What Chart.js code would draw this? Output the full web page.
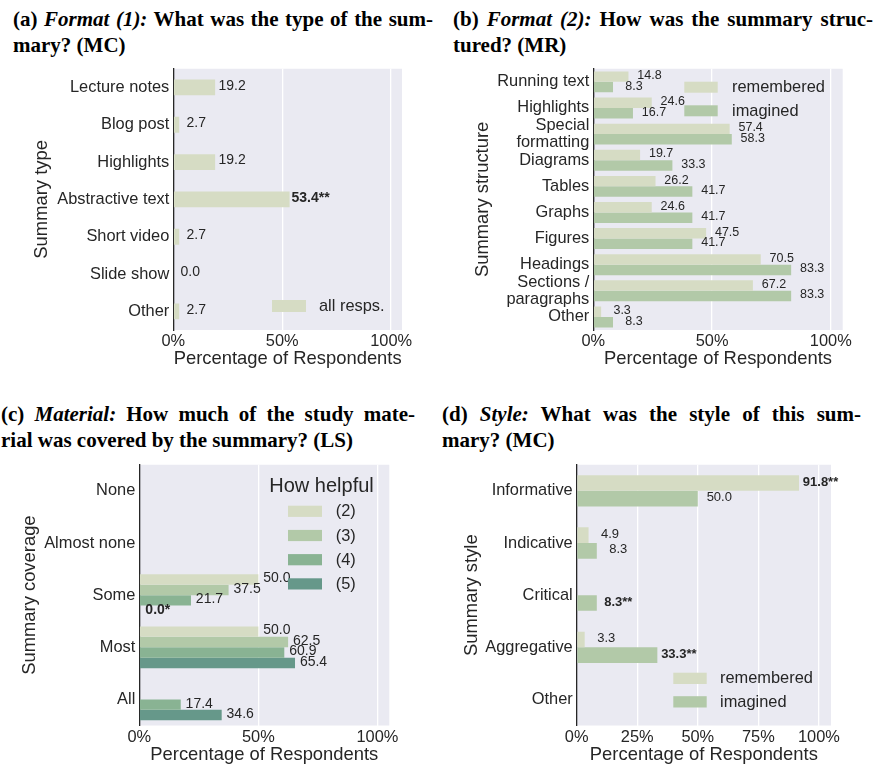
<!DOCTYPE html>
<html lang="en">
<head>
<meta charset="utf-8">
<title>Summary survey results</title>
<script src="https://cdn.jsdelivr.net/npm/chart.js@4.4.0/dist/chart.umd.min.js"></script>
<style>
  body { margin: 0; background: #fff; }
  #page { position: relative; width: 876px; height: 765px; overflow: hidden; }
  canvas { position: absolute; }
  .ttl {
    position: absolute;
    font-family: "Liberation Serif", "DejaVu Serif", serif;
    font-weight: bold;
    font-size: 21px;
    line-height: 25.5px;
    color: #000;
  }
  .ttl .l1 { text-align: justify; text-align-last: justify; }
</style>
</head>
<body>
<div id="page">
  <div class="ttl" style="left:13px; top:7px; width:420px;">
    <div class="l1">(a) <i>Format (1):</i> What was the type of the sum-</div>
    <div>mary? (MC)</div>
  </div>
  <div class="ttl" style="left:453px; top:7px; width:420px;">
    <div class="l1">(b) <i>Format (2):</i> How was the summary struc-</div>
    <div>tured? (MR)</div>
  </div>
  <div class="ttl" style="left:1px; top:402px; width:414px;">
    <div class="l1">(c) <i>Material:</i> How much of the study mate-</div>
    <div>rial was covered by the summary? (LS)</div>
  </div>
  <div class="ttl" style="left:442px; top:402px; width:419px;">
    <div class="l1">(d) <i>Style:</i> What was the style of this sum-</div>
    <div>mary? (MC)</div>
  </div>

  <canvas id="chartA" width="436" height="320"></canvas>
  <canvas id="chartB" width="440" height="320"></canvas>
  <canvas id="chartC" width="436" height="313"></canvas>
  <canvas id="chartD" width="440" height="313"></canvas>
</div>

<script>
// ---- data (percent of respondents) ----
var typeLabels = ['Lecture notes', 'Blog post', 'Highlights', 'Abstractive text', 'Short video', 'Slide show', 'Other'];
var typeAll = [19.2, 2.7, 19.2, 53.4, 2.7, 0.0, 2.7];
var typeMarks = ['', '', '', '**', '', '', ''];

var structLabels = ['Running text', 'Highlights', ['Special', 'formatting'], 'Diagrams', 'Tables', 'Graphs',
                    'Figures', 'Headings', ['Sections /', 'paragraphs'], 'Other'];
var structRemembered = [14.8, 24.6, 57.4, 19.7, 26.2, 24.6, 47.5, 70.5, 67.2, 3.3];
var structImagined = [8.3, 16.7, 58.3, 33.3, 41.7, 41.7, 41.7, 83.3, 83.3, 8.3];

var coverLabels = ['None', 'Almost none', 'Some', 'Most', 'All'];
var coverHelp2 = [null, null, 50.0, 50.0, null];
var coverHelp3 = [null, null, 37.5, 62.5, null];
var coverHelp4 = [null, null, 21.7, 60.9, 17.4];
var coverHelp5 = [null, null, 0.0, 65.4, 34.6];
var coverHelp5Marks = ['', '', '*', '', ''];

var styleLabels = ['Informative', 'Indicative', 'Critical', 'Aggregative', 'Other'];
var styleRemembered = [91.8, 4.9, null, 3.3, null];
var styleImagined = [50.0, 8.3, 8.3, 33.3, null];
var styleRememberedMarks = ['**', '', '', '', ''];
var styleImaginedMarks = ['', '', '**', '**', ''];

var ticksHalves = [0, 50, 100];
var ticksQuarters = [0, 25, 50, 75, 100];

// colours
var GREEN2 = '#D6DCC4', GREEN3 = '#B2C9A8', GREEN4 = '#89B393', GREEN5 = '#66988A';
var INK = '#262626';
var SANS = '"Liberation Sans", Arial, sans-serif';

Chart.defaults.font.family = SANS;
Chart.defaults.color = INK;

// grey plot background
var panelBg = {
  id: 'panelBg',
  beforeDraw: function(chart) {
    var a = chart.chartArea, ctx = chart.ctx;
    ctx.save();
    ctx.fillStyle = '#EAEAF2';
    ctx.fillRect(a.left, a.top, a.right - a.left, a.bottom - a.top);
    ctx.restore();
  }
};

// numbers next to the bars
var valueLabels = {
  id: 'valueLabels',
  afterDatasetsDraw: function(chart, args, o) {
    var ctx = chart.ctx;
    chart.data.datasets.forEach(function(ds, i) {
      var meta = chart.getDatasetMeta(i);
      meta.data.forEach(function(bar, j) {
        var v = ds.data[j];
        if (v === null || v === undefined) return;
        var mark = ds.marks ? ds.marks[j] : '';
        ctx.save();
        ctx.font = (mark ? 'bold ' : '') + o.size + 'px ' + SANS;
        ctx.fillStyle = INK;
        ctx.textAlign = 'center';
        ctx.textBaseline = 'middle';
        ctx.fillText(v.toFixed(1) + mark, bar.x + o.offset + (mark ? (o.boldShift || 0) : 0), bar.y + o.dy);
        ctx.restore();
      });
    });
  }
};

// legend drawn inside the plot
var boxLegend = {
  id: 'boxLegend',
  afterDraw: function(chart, args, o) {
    var ctx = chart.ctx;
    var x0 = o.x - o.left, y0 = o.y - o.top;
    ctx.save();
    ctx.textAlign = 'left';
    ctx.textBaseline = 'middle';
    if (o.title) {
      ctx.fillStyle = INK;
      ctx.font = '20px ' + SANS;
      ctx.fillText(o.title, o.titleX - o.left, o.titleY - o.top);
    }
    ctx.font = '16.4px ' + SANS;
    chart.data.datasets.forEach(function(ds, i) {
      var y = y0 + i * o.row;
      ctx.fillStyle = ds.backgroundColor;
      ctx.fillRect(x0, y, o.boxW, o.boxH);
      ctx.fillStyle = INK;
      ctx.fillText(ds.label, x0 + o.textDx, y + o.boxH / 2 + 0.5);
    });
    ctx.restore();
  }
};

function buildChart(id, g, labels, datasets, xTicks, catPct, valOpts, legOpts) {
  var canvas = document.getElementById(id);
  canvas.style.left = g.left + 'px';
  canvas.style.top = g.top + 'px';

  var padLeft = g.yTitleX - 13.2 - g.left;
  var yWidth = g.area[0] - g.left - padLeft;
  var padBottom = g.top + g.h - (g.xTitleY + 9.2);
  var xHeight = g.xTitleY + 9.2 - g.area[3];
  legOpts.left = g.left;
  legOpts.top = g.top;

  datasets.forEach(function(ds) {
    ds.categoryPercentage = catPct;
    ds.barPercentage = 1.0;
    ds.borderWidth = 0;
  });

  return new Chart(canvas.getContext('2d'), {
    type: 'bar',
    data: { labels: labels, datasets: datasets },
    plugins: [panelBg, valueLabels, boxLegend],
    options: {
      indexAxis: 'y',
      responsive: false,
      animation: false,
      devicePixelRatio: 1,
      layout: {
        padding: { left: padLeft, right: g.left + g.w - g.area[2], top: g.area[1] - g.top, bottom: padBottom }
      },
      scales: {
        x: {
          type: 'linear',
          min: 0,
          max: 105,
          afterBuildTicks: function(s) { s.ticks = xTicks.map(function(v) { return { value: v }; }); },
          afterFit: function(s) { s.height = xHeight; },
          grid: {
            color: function(c) { return c.tick && c.tick.value === 0 ? 'rgba(0,0,0,0)' : '#FFFFFF'; },
            lineWidth: 1.3,
            drawTicks: false
          },
          border: { display: false },
          ticks: {
            padding: g.tickPad,
            color: INK,
            font: { size: 16.4 },
            callback: function(v) { return v + '%'; }
          },
          title: {
            display: true,
            text: 'Percentage of Respondents',
            color: INK,
            font: { size: 18.4, lineHeight: 1 },
            padding: { top: 0, bottom: 0 }
          }
        },
        y: {
          afterFit: function(s) { s.width = yWidth; },
          grid: { display: false, drawTicks: false },
          border: { display: true, color: INK, width: 1.3 },
          ticks: { autoSkip: false, padding: 4, color: INK, font: { size: 16.4, lineHeight: 1.07 } },
          title: {
            display: true,
            text: g.yTitle,
            color: INK,
            font: { size: 18.4, lineHeight: 1 },
            padding: { top: 4, bottom: 0 }
          }
        }
      },
      plugins: {
        legend: { display: false },
        tooltip: { enabled: false },
        valueLabels: valOpts,
        boxLegend: legOpts
      }
    }
  });
}

// (a) summary type
buildChart('chartA',
  { left: 0, top: 56, w: 436, h: 320, area: [173.3, 66.7, 402, 330], yTitleX: 42, xTitleY: 358.5, tickPad: 1.5, yTitle: 'Summary type' },
  typeLabels,
  [{ label: 'all resps.', data: typeAll, marks: typeMarks, backgroundColor: GREEN2 }],
  ticksHalves, 0.425,
  { size: 14, offset: 17, boldShift: 4, dy: -1.5 },
  { x: 272, y: 300, boxW: 34, boxH: 12, row: 24, textDx: 47 });

// (b) summary structure
buildChart('chartB',
  { left: 436, top: 56, w: 440, h: 320, area: [593.3, 66.7, 842.7, 330], yTitleX: 482.7, xTitleY: 358.5, tickPad: 1.5, yTitle: 'Summary structure' },
  structLabels,
  [{ label: 'remembered', data: structRemembered, backgroundColor: GREEN2 },
   { label: 'imagined', data: structImagined, backgroundColor: GREEN3 }],
  ticksHalves, 0.8,
  { size: 12.5, offset: 21, dy: -1 },
  { x: 684.3, y: 81.7, boxW: 33.4, boxH: 11, row: 23.6, textDx: 47.7 });

// (c) coverage
buildChart('chartC',
  { left: 0, top: 452, w: 436, h: 313, area: [139.3, 461.7, 389.3, 725.5], yTitleX: 30, xTitleY: 755, tickPad: 2, yTitle: 'Summary coverage' },
  coverLabels,
  [{ label: '(2)', data: coverHelp2, backgroundColor: GREEN2 },
   { label: '(3)', data: coverHelp3, backgroundColor: GREEN3 },
   { label: '(4)', data: coverHelp4, backgroundColor: GREEN4 },
   { label: '(5)', data: coverHelp5, marks: coverHelp5Marks, backgroundColor: GREEN5 }],
  ticksHalves, 0.8,
  { size: 14, offset: 18.5, dy: -1 },
  { x: 288, y: 505.7, boxW: 34, boxH: 11.2, row: 24.2, textDx: 47.7,
    title: 'How helpful', titleX: 269.3, titleY: 486 });

// (d) style
buildChart('chartD',
  { left: 436, top: 452, w: 440, h: 313, area: [576.7, 461.7, 831, 725.5], yTitleX: 472, xTitleY: 755, tickPad: 2, yTitle: 'Summary style' },
  styleLabels,
  [{ label: 'remembered', data: styleRemembered, marks: styleRememberedMarks, backgroundColor: GREEN2 },
   { label: 'imagined', data: styleImagined, marks: styleImaginedMarks, backgroundColor: GREEN3 }],
  ticksQuarters, 0.6,
  { size: 13, offset: 21.5, dy: -1 },
  { x: 673.3, y: 672.7, boxW: 33.4, boxH: 11.3, row: 23.5, textDx: 46.7 });
</script>
</body>
</html>
